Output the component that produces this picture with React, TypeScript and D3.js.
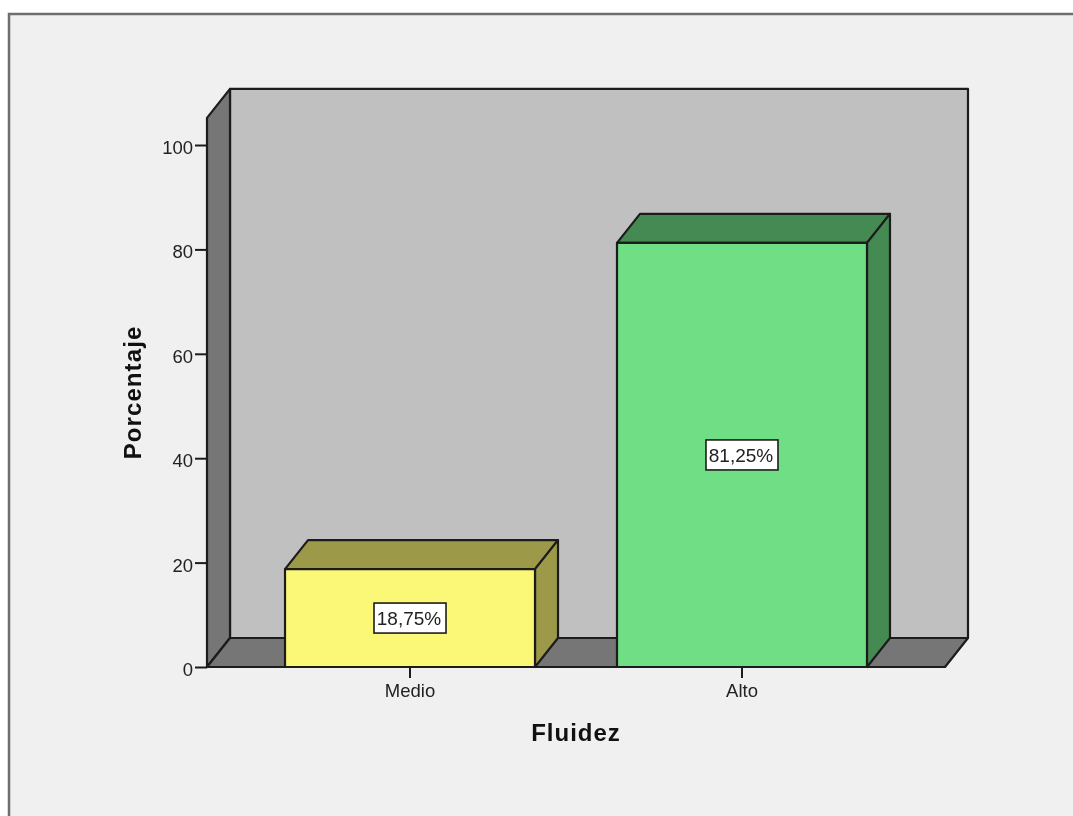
import { useRef, useEffect } from 'react'
import * as d3 from 'd3'

const categories = ['Medio', 'Alto']
const percentages = [18.75, 81.25]
const percentLabels = ['18,75%', '81,25%']
const yTicks = [0, 20, 40, 60, 80, 100]
const barColors = ['#fbf877', '#70de85']
const barShades = ['#9c9a49', '#458a52']

export default function App() {
  const svgRef = useRef<SVGSVGElement>(null)

  useEffect(() => {
    if (!svgRef.current) return
    const svg = d3.select(svgRef.current)
    svg.selectAll('*').remove()

    const font = '"Liberation Sans", Arial, sans-serif'
    const depthX = 23
    const depthY = -29
    const line = '#1c1c1c'

    const x = d3
      .scaleBand()
      .domain(categories)
      .range([207, 945])
      .paddingInner(0.247)
      .paddingOuter(0.235)
    const y = d3.scaleLinear().domain([0, 100]).range([667, 145])
    const yTop = y(105.2)

    // Chart frame
    svg.append('rect').attr('width', 1073).attr('height', 816).attr('fill', '#ffffff')
    svg
      .append('rect')
      .attr('x', 9)
      .attr('y', 14)
      .attr('width', 1080)
      .attr('height', 820)
      .attr('fill', '#f0f0f0')
      .attr('stroke', '#6e6e6e')
      .attr('stroke-width', 2.5)

    const poly = (pts: [number, number][], fill: string) =>
      svg
        .append('polygon')
        .attr('points', pts.map((p) => p.join(',')).join(' '))
        .attr('fill', fill)
        .attr('stroke', line)
        .attr('stroke-width', 2.2)
        .attr('stroke-linejoin', 'round')

    const [x0, x1] = x.range()
    const y0 = y(0)

    // Back wall, side wall, floor
    poly(
      [
        [x0 + depthX, yTop + depthY],
        [x1 + depthX, yTop + depthY],
        [x1 + depthX, y0 + depthY],
        [x0 + depthX, y0 + depthY],
      ],
      '#c0c0c0',
    )
    poly(
      [
        [x0, yTop],
        [x0 + depthX, yTop + depthY],
        [x0 + depthX, y0 + depthY],
        [x0, y0],
      ],
      '#767676',
    )
    poly(
      [
        [x0, y0],
        [x0 + depthX, y0 + depthY],
        [x1 + depthX, y0 + depthY],
        [x1, y0],
      ],
      '#767676',
    )

    // Bars
    categories.forEach((cat, i) => {
      const left = x(cat)!
      const right = left + x.bandwidth()
      const top = y(percentages[i])
      poly(
        [
          [left, top],
          [left + depthX, top + depthY],
          [right + depthX, top + depthY],
          [right, top],
        ],
        barShades[i],
      )
      poly(
        [
          [right, top],
          [right + depthX, top + depthY],
          [right + depthX, y0 + depthY],
          [right, y0],
        ],
        barShades[i],
      )
      poly(
        [
          [left, top],
          [right, top],
          [right, y0],
          [left, y0],
        ],
        barColors[i],
      )

      // Value label
      const cx = left + x.bandwidth() / 2
      const cy = y(percentages[i] / 2)
      svg
        .append('rect')
        .attr('x', cx - 36)
        .attr('y', cy - 15)
        .attr('width', 72)
        .attr('height', 30)
        .attr('fill', '#ffffff')
        .attr('stroke', line)
        .attr('stroke-width', 1.6)
      svg
        .append('text')
        .attr('x', cx - 1)
        .attr('y', cy)
        .attr('dy', '0.36em')
        .attr('text-anchor', 'middle')
        .attr('font-family', font)
        .attr('font-size', 19)
        .attr('fill', '#222222')
        .text(percentLabels[i])
    })

    // Y axis
    const yAxis = svg
      .append('g')
      .attr('transform', `translate(${x0},0)`)
      .call(d3.axisLeft(y).tickValues(yTicks).tickSize(12).tickPadding(2).tickFormat(d3.format('d')))
    yAxis.select('.domain').remove()
    yAxis.selectAll('line').attr('stroke', line).attr('stroke-width', 2)
    yAxis
      .selectAll('text')
      .attr('font-family', font)
      .attr('font-size', 18.5)
      .attr('dy', '0.46em')
      .attr('fill', '#222222')

    // X axis
    const xAxis = svg
      .append('g')
      .attr('transform', `translate(0,${y0})`)
      .call(d3.axisBottom(x).tickSize(11).tickPadding(6))
    xAxis.select('.domain').remove()
    xAxis.selectAll('line').attr('stroke', line).attr('stroke-width', 2)
    xAxis
      .selectAll('text')
      .attr('font-family', font)
      .attr('font-size', 18.5)
      .attr('fill', '#222222')

    // Axis titles
    svg
      .append('text')
      .attr('transform', 'translate(141,392.5) rotate(-90)')
      .attr('text-anchor', 'middle')
      .attr('font-family', font)
      .attr('font-size', 24)
      .attr('font-weight', 'bold')
      .attr('letter-spacing', 1.1)
      .attr('fill', '#111111')
      .text('Porcentaje')
    svg
      .append('text')
      .attr('x', 576)
      .attr('y', 741)
      .attr('text-anchor', 'middle')
      .attr('font-family', font)
      .attr('font-size', 24)
      .attr('font-weight', 'bold')
      .attr('letter-spacing', 1)
      .attr('fill', '#111111')
      .text('Fluidez')
  }, [])

  return (
    <svg
      ref={svgRef}
      width={1073}
      height={816}
      style={{ position: 'absolute', left: 0, top: 0, filter: 'blur(0.4px)' }}
    />
  )
}
